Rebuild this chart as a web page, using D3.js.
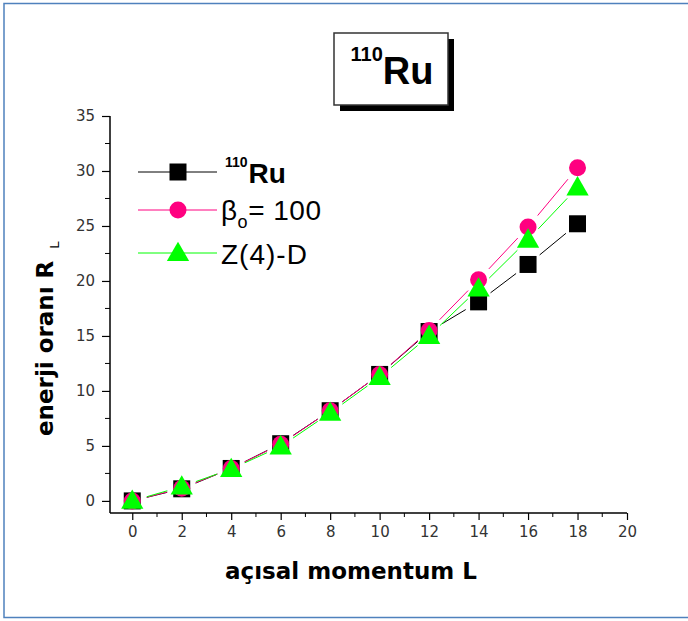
<!DOCTYPE html>
<html>
<head>
<meta charset="utf-8">
<script src="https://cdn.jsdelivr.net/npm/d3@7"></script>
<style>
  html, body { margin: 0; padding: 0; background: #fff; }
  svg { display: block; }
</style>
</head>
<body>
<script>
// Angular momentum values L and energy ratios R_L
const momentum = [0, 2, 4, 6, 8, 10, 12, 14, 16, 18];
const ruExp    = [0, 1.1, 2.95, 5.2, 8.2, 11.5, 15.4, 18.1, 21.5, 25.2];
const beta100  = [0, 1.15, 2.95, 5.15, 8.2, 11.5, 15.5, 20.1, 24.9, 30.3];
const z4d      = [0, 1.3, 2.9, 4.95, 8.0, 11.25, 15.0, 19.3, 23.75, 28.5];

const xTickValues = [0, 2, 4, 6, 8, 10, 12, 14, 16, 18, 20];
const xMinorValues = [1, 3, 5, 7, 9, 11, 13, 15, 17, 19];
const yTickValues = [0, 5, 10, 15, 20, 25, 30, 35];
const yMinorValues = [2.5, 7.5, 12.5, 17.5, 22.5, 27.5, 32.5];

const seriesNames = ["ru", "beta", "z4d"];
const seriesValues = [ruExp, beta100, z4d];
const seriesColors = ["#000000", "#ff0080", "#00ff00"];
const seriesSymbols = [d3.symbolSquare, d3.symbolCircle, d3.symbolTriangle];
const symbolAreas = [289, 227, 215];

const W = 688, H = 621;
const svg = d3.select("body").append("svg")
  .attr("width", W).attr("height", H)
  .attr("font-family", "'Liberation Sans', Arial, sans-serif");

// page frame
svg.append("rect")
  .attr("x", 4).attr("y", 3.5).attr("width", 720).attr("height", 614)
  .attr("fill", "none").attr("stroke", "#4f81bd").attr("stroke-width", 1.5);

const x = d3.scaleLinear().domain([-0.9, 20]).range([110, 627]);
const y = d3.scaleLinear().domain([-1.1, 35]).range([513, 116]);

// axes
const xAxis = svg.append("g").attr("transform", `translate(0,${y(-1.1)})`)
  .call(d3.axisBottom(x).tickValues(xTickValues).tickSize(7).tickPadding(6).tickFormat(d3.format("d")));
xAxis.append("g").selectAll("line").data(xMinorValues).join("line")
  .attr("x1", d => x(d)).attr("x2", d => x(d)).attr("y1", 0).attr("y2", 4)
  .attr("stroke", "#000");

const yAxis = svg.append("g").attr("transform", `translate(${x(-0.9)},0)`)
  .call(d3.axisLeft(y).tickValues(yTickValues).tickSize(8).tickPadding(7).tickFormat(d3.format("d")));
yAxis.append("g").selectAll("line").data(yMinorValues).join("line")
  .attr("x1", 0).attr("x2", -5).attr("y1", d => y(d)).attr("y2", d => y(d))
  .attr("stroke", "#000");

[xAxis, yAxis].forEach(g => {
  g.select(".domain").attr("stroke", "#000").attr("stroke-width", 1.5);
  g.selectAll(".tick line").attr("stroke", "#000").attr("stroke-width", 1.2);
  g.selectAll("text").attr("font-size", 15).attr("fill", "#333")
    .attr("font-family", "'DejaVu Sans', Verdana, sans-serif");
});
xAxis.select(".domain").attr("d", `M${x(-0.9)},0H${x(20)}`);
yAxis.select(".domain").attr("d", `M0,${y(-1.1)}V${y(35)}`);

// axis titles
svg.append("text")
  .attr("x", 351).attr("y", 579)
  .attr("text-anchor", "middle")
  .attr("font-family", "'DejaVu Sans', Verdana, sans-serif")
  .attr("font-weight", "bold").attr("font-size", 23)
  .text("açısal momentum L");

const yTitle = svg.append("text")
  .attr("transform", "translate(53,436) rotate(-90)")
  .attr("text-anchor", "start")
  .attr("font-family", "'DejaVu Sans', Verdana, sans-serif")
  .attr("font-weight", "bold").attr("font-size", 23);
yTitle.append("tspan").text("enerji oranı R");
yTitle.append("tspan").attr("dx", 12).attr("dy", 6).attr("font-size", 13).attr("font-weight", "normal").text("L");

// connecting lines, stopped short of each symbol
const gap = 15;
seriesValues.forEach((vals, si) => {
  const pts = momentum.map((m, i) => [x(m), y(vals[i])]);
  const segs = [];
  for (let i = 0; i < pts.length - 1; i++) {
    const [x0, y0] = pts[i], [x1, y1] = pts[i + 1];
    const len = Math.hypot(x1 - x0, y1 - y0);
    if (len <= 2 * gap) continue;
    const ux = (x1 - x0) / len, uy = (y1 - y0) / len;
    segs.push([x0 + ux * gap, y0 + uy * gap, x1 - ux * gap, y1 - uy * gap]);
  }
  svg.append("g").attr("class", "line-" + seriesNames[si])
    .selectAll("line").data(segs).join("line")
    .attr("x1", d => d[0]).attr("y1", d => d[1])
    .attr("x2", d => d[2]).attr("y2", d => d[3])
    .attr("stroke", seriesColors[si]).attr("stroke-width", 1);
});

// symbols
seriesValues.forEach((vals, si) => {
  const sym = d3.symbol().type(seriesSymbols[si]).size(symbolAreas[si]);
  svg.append("g").attr("class", "pts-" + seriesNames[si])
    .selectAll("path").data(momentum.map((m, i) => [m, vals[i]])).join("path")
    .attr("d", sym)
    .attr("transform", d => `translate(${x(d[0])},${y(d[1]) + (si === 2 ? 1.5 : 0)})`)
    .attr("fill", seriesColors[si]);
});

// legend
const legendRows = [172, 210, 253];
legendRows.forEach((ly, si) => {
  const g = svg.append("g");
  g.append("line").attr("x1", 138).attr("x2", 217).attr("y1", ly).attr("y2", ly)
    .attr("stroke", seriesColors[si]).attr("stroke-width", 1);
  g.append("path").attr("d", d3.symbol().type(seriesSymbols[si]).size(symbolAreas[si])())
    .attr("transform", `translate(178,${ly + (si === 2 ? 1.5 : 0)})`)
    .attr("fill", seriesColors[si]);
});
const l1 = svg.append("text").attr("x", 225).attr("y", 183).attr("font-weight", "bold");
l1.append("tspan").attr("font-size", 14).attr("dy", -16).text("110");
l1.append("tspan").attr("font-size", 28).attr("dy", 16).attr("dx", 1).text("Ru");
const l2 = svg.append("text").attr("x", 221).attr("y", 220).attr("font-size", 28).attr("letter-spacing", 0.5);
l2.append("tspan").text("β");
l2.append("tspan").attr("font-size", 18).attr("dy", 8).text("o");
l2.append("tspan").attr("dy", -8).text("= 100");
svg.append("text").attr("x", 221).attr("y", 264).attr("font-size", 28).attr("letter-spacing", 1).text("Z(4)-D");

// title box with drop shadow
svg.append("rect").attr("x", 340).attr("y", 39).attr("width", 114).attr("height", 72).attr("fill", "#000");
svg.append("rect").attr("x", 334).attr("y", 33).attr("width", 114).attr("height", 72)
  .attr("fill", "#fff").attr("stroke", "#333").attr("stroke-width", 1.5);
const t = svg.append("text").attr("x", 392).attr("y", 84).attr("text-anchor", "middle").attr("font-weight", "bold");
t.append("tspan").attr("font-size", 20).attr("dy", -23).text("110");
t.append("tspan").attr("font-size", 38).attr("dy", 23).text("Ru");
</script>
</body>
</html>
